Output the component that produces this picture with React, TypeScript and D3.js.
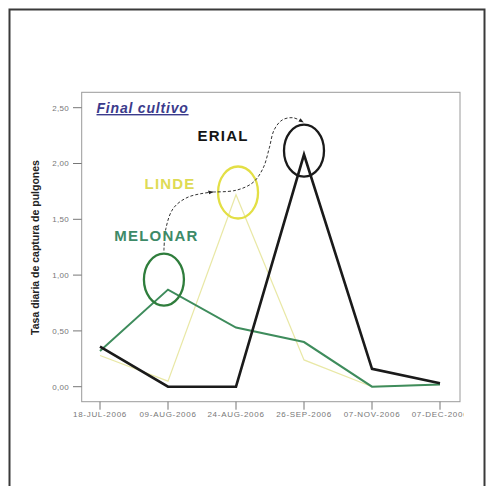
import React from "react";
import * as d3 from "d3";

const dates = ["18-JUL-2006", "09-AUG-2006", "24-AUG-2006", "26-SEP-2006", "07-NOV-2006", "07-DEC-2006"];
const erial = [0.36, 0.0, 0.0, 2.08, 0.16, 0.03];
const melonar = [0.32, 0.87, 0.53, 0.4, 0.0, 0.02];
const linde = [0.28, 0.05, 1.72, 0.24, 0.0, 0.02];
const yTicks = [0, 0.5, 1, 1.5, 2, 2.5];

// annotation ellipses: [index, value]
const rings = [
  { i: 0.94, v: 0.96, color: "#2f7d3c" },
  { i: 2.03, v: 1.74, color: "#e3df45" },
  { i: 3.0, v: 2.115, color: "#1a1a1a" },
];
const labels = [
  { text: "ERIAL", i: 1.81, v: 2.2, color: "#151515" },
  { text: "LINDE", i: 1.03, v: 1.77, color: "#dedb55" },
  { text: "MELONAR", i: 0.83, v: 1.31, color: "#3d8a68" },
];
const arrow1: [number, number][] = [
  [0.94, 1.22], [0.97, 1.42], [1.08, 1.6], [1.3, 1.7], [1.66, 1.745],
];
const arrow2: [number, number][] = [
  [1.66, 1.745], [2.0, 1.76], [2.25, 1.83], [2.4, 1.96], [2.49, 2.14], [2.56, 2.3], [2.68, 2.39], [2.84, 2.41], [2.99, 2.37],
];

export default function App() {
  const W = 487, H = 486;
  const left = 81.7, right = 460, top = 92.3, bottom = 401.7;
  const x = d3.scalePoint<string>().domain(dates).range([100, 440]);
  const xi = d3.scaleLinear().domain([0, dates.length - 1]).range([100, 440]);
  const y = d3.scaleLinear().domain([0, 2.5]).range([386.7, 107.7]);
  const line = d3.line<number>().x((_, i) => x(dates[i])!).y((d) => y(d));
  const curve = d3.line<[number, number]>().x((d) => xi(d[0])).y((d) => y(d[1])).curve(d3.curveCatmullRom.alpha(0.5));
  const axisFont = "'Liberation Sans', Arial, sans-serif";

  return (
    <svg width={W} height={H} style={{ position: "absolute", left: 0, top: 0, background: "#fff" }}>
      <defs>
        <marker id="arr" viewBox="0 0 10 10" refX="9" refY="5" markerWidth="5" markerHeight="5" orient="auto">
          <path d="M0,1 L10,5 L0,9 Z" fill="#222" />
        </marker>
        <clipPath id="clipx">
          <rect x={0} y={0} width={464} height={H} />
        </clipPath>
      </defs>
      <rect x={9.5} y={9.5} width={475} height={490} fill="none" stroke="#3a3a3a" strokeWidth={2} />
      <rect x={left} y={top} width={right - left} height={bottom - top} fill="none" stroke="#9a9a9a" strokeWidth={1} />
      {yTicks.map((t) => (
        <g key={t}>
          <line x1={73} x2={left} y1={y(t)} y2={y(t)} stroke="#777" strokeWidth={1} />
          <text x={69} y={y(t) + 2.8} fontSize={8} fill="#777" textAnchor="end" fontFamily={axisFont} letterSpacing={0.3}>
            {t.toFixed(2).replace(".", ",")}
          </text>
        </g>
      ))}
      <g clipPath="url(#clipx)">
        {dates.map((d) => (
          <g key={d}>
            <line x1={x(d)} x2={x(d)} y1={bottom} y2={bottom + 8} stroke="#777" strokeWidth={1} />
            <text x={x(d)} y={417} fontSize={8} fill="#777" textAnchor="middle" fontFamily={axisFont} letterSpacing={0.7}>
              {d}
            </text>
          </g>
        ))}
      </g>
      <text
        transform={`translate(39,${247.5}) rotate(-90)`}
        textAnchor="middle"
        fontSize={10.5}
        fontWeight="bold"
        fill="#222"
        fontFamily={axisFont}
      >
        Tasa diaria de captura de pulgones
      </text>
      <path d={line(linde)!} fill="none" stroke="#e9e8a6" strokeWidth={1.2} />
      <path d={line(melonar)!} fill="none" stroke="#3e8c5c" strokeWidth={2} />
      <path d={line(erial)!} fill="none" stroke="#1a1a1a" strokeWidth={2.6} />
      {rings.map((r, k) => (
        <ellipse key={k} cx={xi(r.i)} cy={y(r.v)} rx={20} ry={26} fill="none" stroke={r.color} strokeWidth={2.3} />
      ))}
      <path d={curve(arrow1)!} fill="none" stroke="#333" strokeWidth={1} strokeDasharray="3,2" markerEnd="url(#arr)" />
      <path d={curve(arrow2)!} fill="none" stroke="#333" strokeWidth={1} strokeDasharray="3,2" markerEnd="url(#arr)" />
      {labels.map((l) => (
        <text
          key={l.text}
          x={xi(l.i)}
          y={y(l.v)}
          textAnchor="middle"
          fontSize={15}
          fontWeight="bold"
          fill={l.color}
          fontFamily={axisFont}
          letterSpacing={1.2}
        >
          {l.text}
        </text>
      ))}
      <text x={96.5} y={113} fontSize={14} fontWeight="bold" fontStyle="italic" fill="#3b3b8c" fontFamily={axisFont} textDecoration="underline" letterSpacing={0.8}>
        Final cultivo
      </text>
    </svg>
  );
}
